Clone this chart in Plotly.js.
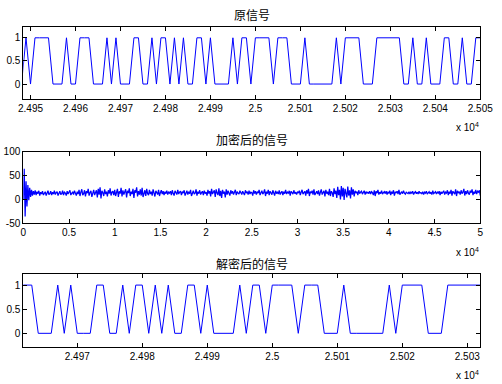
<!DOCTYPE html>
<html>
<head>
<meta charset="utf-8">
<script src="https://cdn.plot.ly/plotly-3.0.1.min.js"></script>
<style>
  html, body { margin: 0; padding: 0; background: #ffffff; }
  #chart { width: 502px; height: 384px; }
</style>
</head>
<body>
<div id="chart"></div>
<script>
// ---------------- data ----------------
// Original binary signal, one sample per time step, starting at t = 24948
const origStart = 24948;
const origBits = [
  0, 1, 0, 1, 1, 1, 1, 0, 0, 0,
  1, 0, 0, 1, 1, 1, 0, 0, 0, 1,
  0, 1, 0, 0, 0, 1, 1, 0, 0, 1,
  0, 1, 1, 0, 1, 0, 1, 0, 0, 1,
  1, 0, 1, 0, 0, 0, 0, 1, 0, 1,
  1, 0, 1, 1, 1, 1, 0, 1, 1, 1,
  0, 0, 0, 1, 0, 0, 0, 0, 0, 0,
  1, 0, 1, 1, 1, 1, 0, 0, 0, 1,
  1, 1, 1, 1, 1, 0, 0, 1, 0, 0,
  1, 0, 0, 0, 1, 1, 0, 0, 1, 0,
  0, 1, 1
];

// Encrypted signal (sampled every encStep time units, starting at 0)
const encStep = 100;
const encValues = [
  0, 64, -36, 38, -15, 30, -2, 24, 5, 20, 8, 17, 10, 19, 9, 16, 12, 18, 8, 15,
  11, 17, 9, 14, 16, 8, 13, 18, 10, 12, 17, 9, 15, 11, 18, 10, 14, 16, 8, 13,
  17, 10, 12, 18, 9, 15, 13, 8, 17, 11, 14, 19, 9, 12, 16, 10, 18, 13, 8, 16,
  11, 20, 7, 15, 21, 9, 12, 19, 6, 17, 13, 22, 8, 14, 18, 5, 16, 20, 9, 13,
  19, 4, 22, 10, 25, 2, 18, 14, 7, 21, 11, 16, 6, 19, 12, 23, 8, 15, 17, 9,
  20, 7, 14, 22, 5, 17, 12, 24, 6, 19, 10, 15, 21, 4, 18, 13, 23, 7, 16, 11,
  22, 3, 19, 14, 25, 6, 17, 10, 21, 8, 24, 5, 15, 19, 7, 22, 12, 9, 20, 11,
  16, 8, 21, 13, 6, 18, 15, 10, 20, 7, 14, 19, 11, 17, 9, 16, 12, 18, 10, 15,
  13, 17, 9, 19, 12, 8, 18, 14, 10, 20, 11, 15, 17, 9, 16, 13, 19, 8, 14, 18,
  10, 16, 12, 20, 7, 15, 18, 11, 13, 21, 8, 16, 12, 19, 10, 14, 17, 9, 18, 12,
  15, 8, 20, 12, 17, 6, 22, 11, 14, 19, 5, 21, 13, 9, 23, 7, 18, 3, 20, 12,
  16, 4, 21, 10, 18, 14, 8, 19, 12, 17, 10, 15, 20, 9, 16, 13, 11, 18, 14, 10,
  17, 12, 9, 19, 13, 16, 10, 18, 11, 15, 14, 8, 19, 12, 17, 10, 16, 13, 20, 9,
  15, 18, 11, 14, 21, 7, 16, 12, 20, 9, 17, 13, 10, 19, 14, 8, 18, 12, 16, 11,
  19, 10, 14, 17, 9, 16, 12, 20, 11, 15, 13, 18, 8, 17, 14, 11, 19, 12, 15, 10,
  16, 13, 18, 9, 15, 20, 11, 14, 17, 8, 19, 12, 22, 7, 16, 13, 18, 10, 21, 9,
  14, 17, 11, 19, 8, 15, 21, 10, 13, 18, 6, 20, 12, 16, 9, 22, 7, 17, 14, 5,
  23, 11, 18, 3, 26, 9, 20, 0, 28, 6, 24, -1, 22, 14, 4, 27, 8, 19, 2, 25,
  10, 21, 6, 18, 13, 16, 9, 19, 12, 15, 17, 11, 14, 18, 10, 16, 13, 15, 12, 17,
  11, 16, 14, 9, 19, 7, 17, 13, 20, 10, 15, 12, 18, 11, 14, 16, 12, 17, 10, 15,
  13, 18, 9, 16, 12, 19, 8, 15, 14, 17, 11, 20, 10, 14, 16, 12, 18, 13, 11, 15,
  14, 12, 16, 11, 15, 13, 17, 10, 14, 16, 12, 15, 11, 17, 13, 14, 12, 16, 10, 15,
  13, 17, 11, 14, 16, 12, 15, 10, 18, 12, 14, 16, 11, 15, 13, 17, 9, 16, 12, 14,
  18, 10, 15, 13, 19, 9, 16, 12, 20, 8, 17, 14, 11, 21, 7, 18, 13, 16, 10, 19,
  12, 15, 22, 8, 17, 11, 19, 13, 10, 18, 14, 21, 9, 16, 12, 20, 11, 17, 15, 19,
  8
];

// Decrypted signal, starting at t = 24961
const decStart = 24961;
const decBits = [
  1, 1, 1, 0, 0, 0, 1, 0, 1, 0,
  0, 0, 1, 1, 0, 0, 1, 0, 1, 1,
  0, 1, 0, 1, 0, 0, 1, 1, 0, 1,
  0, 0, 0, 0, 1, 0, 1, 1, 0, 1,
  1, 1, 1, 0, 1, 1, 1, 0, 0, 0,
  1, 0, 0, 0, 0, 0, 0, 1, 0, 1,
  1, 1, 1, 0, 0, 0, 1, 1, 1, 1,
  1, 1
];

// tick labels
const topTickLabels = ['2.495','2.496','2.497','2.498','2.499','2.5','2.501','2.502','2.503','2.504','2.505'];
const midTickLabels = ['0','0.5','1','1.5','2','2.5','3','3.5','4','4.5','5'];
const botTickLabels = ['2.497','2.498','2.499','2.5','2.501','2.502','2.503'];
const titles = ['原信号', '加密后的信号', '解密后的信号'];

// ---------------- build ----------------
const origX = origBits.map((_, i) => origStart + i);
const encX = encValues.map((_, i) => i * encStep);
const decX = decBits.map((_, i) => decStart + i);

const lineStyle = { color: '#0000ff', width: 1 };
const traces = [
  { x: origX, y: origBits, type: 'scatter', mode: 'lines', line: lineStyle, xaxis: 'x', yaxis: 'y', hoverinfo: 'skip' },
  { x: encX, y: encValues, type: 'scatter', mode: 'lines', line: { color: '#0000ff', width: 1.25 }, xaxis: 'x2', yaxis: 'y2', hoverinfo: 'skip' },
  { x: decX, y: decBits, type: 'scatter', mode: 'lines', line: lineStyle, xaxis: 'x3', yaxis: 'y3', hoverinfo: 'skip' }
];

const W = 502, H = 384;
const px = v => v / W;
const py = v => 1 - v / H;
const tickFont = { family: 'Liberation Sans, Arial, sans-serif', size: 10, color: '#000' };

function axisBase(extra) {
  return Object.assign({
    showline: true, linecolor: '#000', linewidth: 1, mirror: 'ticks',
    ticks: 'inside', ticklen: 4, tickcolor: '#000', tickwidth: 1,
    showgrid: false, zeroline: false, tickfont: tickFont,
    tickmode: 'array', fixedrange: true
  }, extra);
}

const xDom = [px(23.3), px(480.3)];
const layout = {
  width: W, height: H,
  margin: { l: 0, r: 0, t: 0, b: 0 },
  paper_bgcolor: '#ffffff', plot_bgcolor: '#ffffff',
  showlegend: false,
  xaxis: axisBase({ domain: xDom, range: [24948.4, 25050], anchor: 'y',
    tickvals: topTickLabels.map(t => Math.round(parseFloat(t) * 10000)), ticktext: topTickLabels }),
  yaxis: axisBase({ domain: [py(99.3), py(26.7)], range: [-0.33, 1.24], anchor: 'x',
    tickvals: [0, 0.5, 1], ticktext: ['0', '0.5', '1'] }),
  xaxis2: axisBase({ domain: xDom, range: [0, 50000], anchor: 'y2',
    tickvals: midTickLabels.map(t => parseFloat(t) * 10000), ticktext: midTickLabels }),
  yaxis2: axisBase({ domain: [py(223.3), py(151.5)], range: [-50, 100], anchor: 'x2',
    tickvals: [-50, 0, 50, 100], ticktext: ['-50', '0', '50', '100'] }),
  xaxis3: axisBase({ domain: xDom, range: [24961.7, 25032], anchor: 'y3',
    tickvals: botTickLabels.map(t => Math.round(parseFloat(t) * 10000)), ticktext: botTickLabels }),
  yaxis3: axisBase({ domain: [py(347.3), py(274)], range: [-0.29, 1.23], anchor: 'x3',
    tickvals: [0, 0.5, 1], ticktext: ['0', '0.5', '1'] }),
  annotations: []
};

const titleY = [14, 139, 263];
titles.forEach((t, i) => {
  layout.annotations.push({
    text: t, xref: 'paper', yref: 'paper', x: px(251.8), y: py(titleY[i]),
    xanchor: 'center', yanchor: 'middle', showarrow: false,
    font: { family: 'Noto Sans CJK SC, sans-serif', size: 12, color: '#000' }
  });
});
const expY = [127, 251.5, 375];
expY.forEach(yv => {
  layout.annotations.push({
    text: 'x 10<sup>4</sup>', xref: 'paper', yref: 'paper', x: px(481), y: py(yv),
    xanchor: 'right', yanchor: 'middle', showarrow: false,
    font: tickFont
  });
});

Plotly.newPlot('chart', traces, layout, { staticPlot: true, displayModeBar: false });
</script>
</body>
</html>
